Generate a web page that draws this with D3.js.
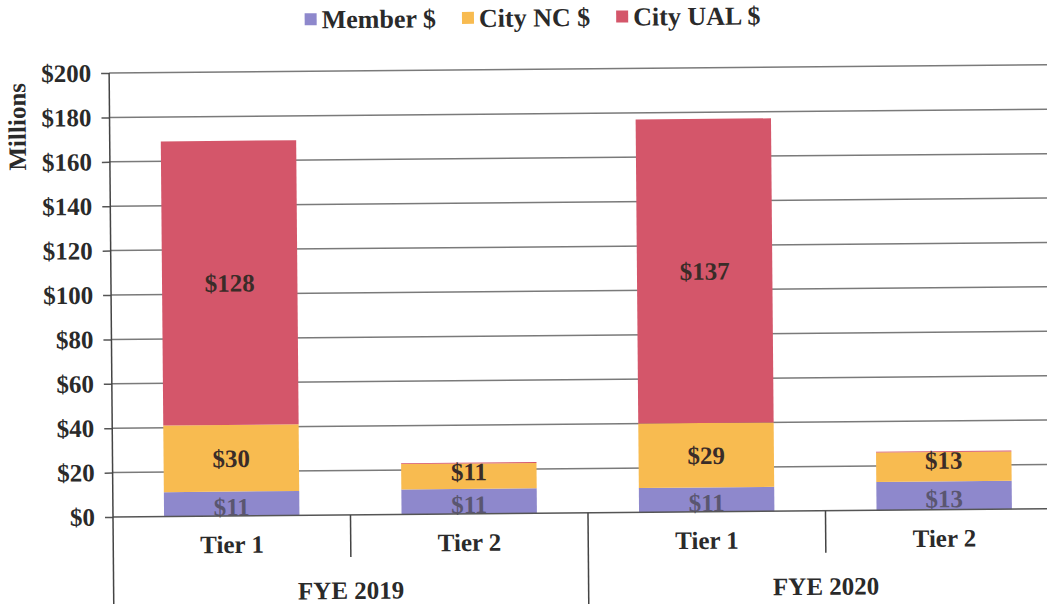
<!DOCTYPE html>
<html>
<head>
<meta charset="utf-8">
<script src="https://cdn.jsdelivr.net/npm/d3@7"></script>
<style>
  body { margin: 0; background: #fff; }
  svg { display: block; }
  text { font-family: "Liberation Serif", "Times New Roman", serif; font-weight: bold; }
</style>
</head>
<body>
<svg id="chart" width="1047" height="604"></svg>
<script>
// chart data
const groups = ["FYE 2019", "FYE 2020"];
const tiers = ["Tier 1", "Tier 2"];
const seriesNames = ["Member $", "City NC $", "City UAL $"];
const memberVals = [11, 11.3, 11, 12.8];
const cityNcVals = [30, 11.4, 29, 13.2];
const cityUalVals = [128, 0.4, 137, 0.4];
const yTicks = [0, 20, 40, 60, 80, 100, 120, 140, 160, 180, 200];
const colors = ["#8e88cc", "#f8bb50", "#d4566a"];

const width = 1047, height = 604;
const plotLeft = 113, plotBase = 517, plotTop = 73;

const svg = d3.select("#chart");
const g = svg.append("g").attr("transform", `rotate(-0.5, ${plotLeft}, ${plotBase})`);

// one row per bar
const rows = [];
groups.forEach((grp, gi) => {
  tiers.forEach((t, ti) => {
    const i = gi * tiers.length + ti;
    rows.push({
      key: grp + "|" + t, group: grp, tier: t,
      "Member $": memberVals[i], "City NC $": cityNcVals[i], "City UAL $": cityUalVals[i]
    });
  });
});

const x = d3.scaleBand()
  .domain(rows.map(d => d.key))
  .range([plotLeft, plotLeft + 950])
  .paddingInner(0.43)
  .paddingOuter(0.215);

const y = d3.scaleLinear().domain([0, 200]).range([plotBase, plotTop]);

// gridlines
g.append("g")
  .selectAll("line")
  .data(yTicks.filter(v => v > 0))
  .join("line")
  .attr("x1", plotLeft).attr("x2", width + 30)
  .attr("y1", d => y(d)).attr("y2", d => y(d))
  .attr("stroke", "#7a7a7a").attr("stroke-width", 1.5);

// y axis
const yAxis = d3.axisLeft(y)
  .tickValues(yTicks)
  .tickFormat(d => "$" + d)
  .tickSize(8)
  .tickPadding(10);
const ya = g.append("g").attr("transform", `translate(${plotLeft},0)`).call(yAxis);
ya.select(".domain").remove();
ya.selectAll(".tick line").attr("stroke", "#555").attr("stroke-width", 1.5);
ya.selectAll(".tick text")
  .attr("font-size", 25).attr("fill", "#2a2a2a")
  .style("font-family", "'Liberation Serif', serif").style("font-weight", "bold");

// stacked bars
const stack = d3.stack().keys(seriesNames);
const layers = stack(rows);

const layerG = g.append("g")
  .selectAll("g")
  .data(layers)
  .join("g")
  .attr("fill", (d, i) => colors[i]);

layerG.selectAll("rect")
  .data(d => d)
  .join("rect")
  .attr("x", d => x(d.data.key))
  .attr("width", x.bandwidth())
  .attr("y", d => y(d[1]))
  .attr("height", d => y(d[0]) - y(d[1]));

// value labels (short segments: NC label hugs the top, member label sits low)
layers.forEach((layer, li) => {
  const key = seriesNames[li];
  g.append("g")
    .selectAll("text")
    .data(layer.filter(d => d.data[key] >= 5))
    .join("text")
    .attr("x", d => x(d.data.key) + x.bandwidth() / 2)
    .attr("y", d => {
      const h = y(d[0]) - y(d[1]);
      const mid = y((d[0] + d[1]) / 2);
      if (h < 35 && li === 1) return y(d[1]) + 8;
      if (li === 0) return mid + 3;
      return mid;
    })
    .attr("dy", "0.35em")
    .attr("text-anchor", "middle")
    .attr("font-size", 25)
    .attr("fill", li === 0 ? "#5a5670" : "#3a2c28")
    .text(d => "$" + Math.round(d.data[key]));
});

// axes lines
g.append("line")
  .attr("x1", plotLeft).attr("x2", width + 30)
  .attr("y1", plotBase).attr("y2", plotBase)
  .attr("stroke", "#555").attr("stroke-width", 1.5);
g.append("line")
  .attr("x1", plotLeft).attr("x2", plotLeft)
  .attr("y1", plotTop).attr("y2", height + 20)
  .attr("stroke", "#444").attr("stroke-width", 1.5);

// category dividers
const step = x.step();
rows.forEach((d, i) => {
  if (i === 0) return;
  const xx = x(d.key) - x.paddingInner() * step / 2;
  const isGroupEdge = i % tiers.length === 0;
  g.append("line")
    .attr("x1", xx).attr("x2", xx)
    .attr("y1", plotBase).attr("y2", isGroupEdge ? height + 20 : plotBase + 42)
    .attr("stroke", "#444").attr("stroke-width", 1.5);
});

// tier labels
g.append("g")
  .selectAll("text")
  .data(rows)
  .join("text")
  .attr("x", d => x(d.key) + x.bandwidth() / 2)
  .attr("y", plotBase + 37)
  .attr("text-anchor", "middle")
  .attr("font-size", 25)
  .attr("fill", "#2a2a2a")
  .text(d => d.tier);

// group labels
g.append("g")
  .selectAll("text")
  .data(groups)
  .join("text")
  .attr("x", (d, gi) => {
    const first = rows[gi * tiers.length], last = rows[gi * tiers.length + tiers.length - 1];
    return (x(first.key) + x(last.key) + x.bandwidth()) / 2;
  })
  .attr("y", plotBase + 84)
  .attr("text-anchor", "middle")
  .attr("font-size", 25)
  .attr("fill", "#2a2a2a")
  .text(d => d);

// y title
g.append("text")
  .attr("transform", `translate(29, 126) rotate(-90)`)
  .attr("text-anchor", "middle")
  .attr("font-size", 25)
  .attr("fill", "#2a2a2a")
  .text("Millions");

// legend
const legend = g.append("g").attr("transform", "translate(0, 21)");
let lx = 309;
seriesNames.forEach((name, i) => {
  const item = legend.append("g").attr("transform", `translate(${lx},0)`);
  item.append("rect")
    .attr("x", 0).attr("y", -6).attr("width", 12).attr("height", 12)
    .attr("fill", colors[i]);
  const t = item.append("text")
    .attr("x", 17).attr("dy", "0.35em")
    .attr("font-size", 26)
    .attr("fill", "#2a2a2a")
    .text(name);
  lx += 17 + t.node().getComputedTextLength() + 26;
});
</script>
</body>
</html>
